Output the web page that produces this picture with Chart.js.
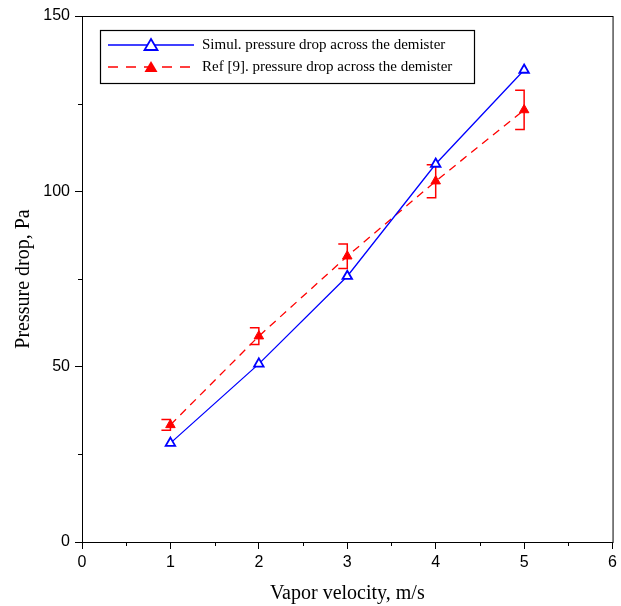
<!DOCTYPE html>
<html>
<head>
<meta charset="utf-8">
<script src="https://cdn.jsdelivr.net/npm/chart.js@4.4.0/dist/chart.umd.min.js"></script>
<style>
  html, body { margin: 0; padding: 0; background: #fff; }
  #wrap { width: 621px; height: 606px; }
</style>
</head>
<body>
<div id="wrap"><canvas id="chart" width="621" height="606"></canvas></div>
<script>
// datos
const velocity = [1, 2, 3, 4, 5];
const simulDrop = [28.2, 50.8, 75.8, 107.8, 134.6];
const refDrop = [33.4, 58.7, 81.5, 102.9, 123.2];
const refError = [1.5, 2.4, 3.5, 4.7, 5.6];
const xTicks = [0, 1, 2, 3, 4, 5, 6];
const yTicks = [0, 50, 100, 150];

const serif = '"Liberation Serif", "Times New Roman", serif';
const sans = '"Liberation Sans", Arial, sans-serif';

// barras de error con media tapa hacia la izquierda
const errorBars = {
  id: 'errorBars',
  beforeDatasetsDraw(chart) {
    const { ctx, scales: { x, y } } = chart;
    ctx.save();
    ctx.strokeStyle = 'rgb(255, 0, 0)';
    ctx.lineWidth = 1.5;
    velocity.forEach((v, i) => {
      const px = x.getPixelForValue(v);
      const top = y.getPixelForValue(refDrop[i] + refError[i]);
      const bottom = y.getPixelForValue(refDrop[i] - refError[i]);
      ctx.beginPath();
      ctx.moveTo(px - 9, top);
      ctx.lineTo(px, top);
      ctx.lineTo(px, bottom);
      ctx.lineTo(px - 9, bottom);
      ctx.stroke();
    });
    ctx.restore();
  }
};

// marco, ticks menores y leyenda dentro del grafico
const frame = {
  id: 'frame',
  afterDraw(chart) {
    const { ctx, chartArea: a, scales: { x, y } } = chart;
    ctx.save();
    ctx.strokeStyle = '#000';
    ctx.lineWidth = 1;
    ctx.strokeRect(a.left + 0.5, a.top + 0.5, a.right - a.left, a.bottom - a.top);

    // ticks menores
    ctx.beginPath();
    for (let v = 0.5; v < 6; v += 1) {
      const px = Math.round(x.getPixelForValue(v)) + 0.5;
      ctx.moveTo(px, a.bottom);
      ctx.lineTo(px, a.bottom + 4);
    }
    for (let v = 25; v < 150; v += 50) {
      const py = Math.round(y.getPixelForValue(v)) + 0.5;
      ctx.moveTo(a.left, py);
      ctx.lineTo(a.left - 4, py);
    }
    ctx.stroke();

    // leyenda
    const lx = 100, ly = 30, lw = 374, lh = 53;
    ctx.lineWidth = 1.2;
    ctx.strokeRect(lx + 0.5, ly + 0.5, lw, lh);

    const rows = [
      { y: ly + 15, color: 'rgb(0, 0, 255)', dash: [], fill: false, label: chart.data.datasets[0].label },
      { y: ly + 37, color: 'rgb(255, 0, 0)', dash: [10, 8], fill: true, label: chart.data.datasets[1].label }
    ];
    rows.forEach(r => {
      ctx.strokeStyle = r.color;
      ctx.lineWidth = 1.3;
      ctx.setLineDash(r.dash);
      ctx.beginPath();
      ctx.moveTo(lx + 8, r.y);
      ctx.lineTo(lx + 94, r.y);
      ctx.stroke();
      ctx.setLineDash([]);

      const cx = lx + 51;
      ctx.beginPath();
      ctx.moveTo(cx, r.y - 6);
      ctx.lineTo(cx + 6.5, r.y + 5);
      ctx.lineTo(cx - 6.5, r.y + 5);
      ctx.closePath();
      if (r.fill) {
        ctx.fillStyle = r.color;
        ctx.fill();
      } else {
        ctx.fillStyle = '#fff';
        ctx.fill();
        ctx.lineWidth = 1.8;
        ctx.stroke();
      }

      ctx.fillStyle = '#000';
      ctx.font = '15px ' + serif;
      ctx.textBaseline = 'middle';
      ctx.fillText(r.label, lx + 102, r.y);
    });
    ctx.restore();
  }
};

const data = {
  datasets: [
    {
      label: 'Simul. pressure drop across the demister',
      data: velocity.map((v, i) => ({ x: v, y: simulDrop[i] })),
      showLine: true,
      borderColor: 'rgb(0, 0, 255)',
      borderWidth: 1.3,
      pointStyle: 'triangle',
      pointRadius: 5.5,
      pointBorderWidth: 1.8,
      pointBackgroundColor: '#fff',
      pointBorderColor: 'rgb(0, 0, 255)'
    },
    {
      label: 'Ref [9]. pressure drop across the demister',
      data: velocity.map((v, i) => ({ x: v, y: refDrop[i] })),
      showLine: true,
      borderColor: 'rgb(255, 0, 0)',
      borderWidth: 1.3,
      borderDash: [8, 6],
      pointStyle: 'triangle',
      pointRadius: 5.5,
      pointBorderWidth: 1,
      pointBackgroundColor: 'rgb(255, 0, 0)',
      pointBorderColor: 'rgb(255, 0, 0)'
    }
  ]
};

const config = {
  type: 'scatter',
  data: data,
  plugins: [errorBars, frame],
  options: {
    responsive: false,
    animation: false,
    layout: { padding: { top: 16, right: 7, left: 0, bottom: 0 } },
    plugins: {
      legend: { display: false },
      tooltip: { enabled: false }
    },
    scales: {
      x: {
        type: 'linear',
        min: 0,
        max: 6,
        afterBuildTicks: axis => { axis.ticks = xTicks.map(v => ({ value: v })); },
        afterFit: axis => { axis.height = 64; },
        grid: { drawOnChartArea: false, tickLength: 7, tickColor: '#000', tickWidth: 1 },
        border: { color: '#000', width: 1 },
        ticks: { color: '#000', font: { family: sans, size: 16 }, padding: 4 },
        title: {
          display: true,
          text: 'Vapor velocity, m/s',
          color: '#000',
          font: { family: serif, size: 20 },
          padding: { top: 8, bottom: 0 }
        }
      },
      y: {
        type: 'linear',
        min: 0,
        max: 150,
        afterBuildTicks: axis => { axis.ticks = yTicks.map(v => ({ value: v })); },
        afterFit: axis => { axis.width = 82; },
        grid: { drawOnChartArea: false, tickLength: 7, tickColor: '#000', tickWidth: 1 },
        border: { color: '#000', width: 1 },
        ticks: { color: '#000', font: { family: sans, size: 16 }, padding: 5 },
        title: {
          display: true,
          text: 'Pressure drop, Pa',
          color: '#000',
          font: { family: serif, size: 20 },
          padding: { top: 12, bottom: 0 }
        }
      }
    }
  }
};

new Chart(document.querySelector('#chart'), config);
</script>
</body>
</html>
